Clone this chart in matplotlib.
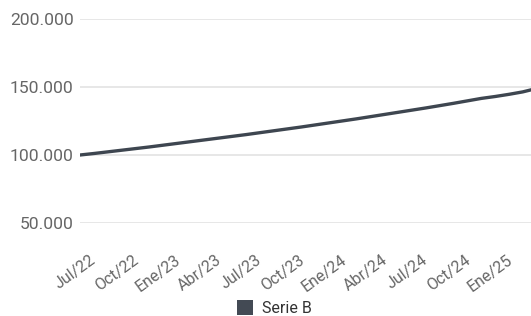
import matplotlib
matplotlib.use("Agg")
import matplotlib.pyplot as plt
from matplotlib.ticker import FuncFormatter, FixedLocator
from matplotlib.patches import Patch
import matplotlib.transforms as mtransforms

# Data (monthly, starting Jul/22)
months = list(range(34))
serie_b = [100000, 101100, 102300, 103500, 104700, 105900, 107200, 108500,
           109800, 111100, 112400, 113700, 115000, 116400, 117800, 119200,
           120600, 122100, 123600, 125100, 126600, 128200, 129800, 131400,
           133000, 134600, 136300, 138000, 139800, 141600, 143000, 144600,
           146400, 148900]
tick_labels = ["Jul/22", "Oct/22", "Ene/23", "Abr/23", "Jul/23", "Oct/23",
               "Ene/24", "Abr/24", "Jul/24", "Oct/24", "Ene/25"]
y_ticks = [50000, 100000, 150000, 200000]

plt.rcParams['font.family'] = ['Roboto', 'DejaVu Sans']

fig = plt.figure(figsize=(5.31, 3.16), dpi=100)
ax = fig.add_axes([80/531, 1-223/316, 1-80/531, (223-19)/316])

line_color = '#3e4650'
ax.plot(months, serie_b, color=line_color, lw=2.4, solid_capstyle='round', clip_on=True)

ax.set_xlim(0, 32.6)
ax.set_ylim(50000, 200000)
ax.yaxis.set_major_locator(FixedLocator(y_ticks))
ax.yaxis.set_major_formatter(FuncFormatter(lambda v, p: f"{int(v):,}".replace(",", ".")))
ax.set_xticks([i*3 for i in range(len(tick_labels))])
ax.set_xticklabels(tick_labels, rotation=36, ha='center', fontsize=11.5, color='#666666')
ax.tick_params(axis='x', length=0, pad=21)
ax.tick_params(axis='y', length=0, pad=4.5, labelsize=12.6, labelcolor='#666666')

ax.grid(axis='y', color='#e3e3e3', lw=1.2)
ax.set_axisbelow(True)
for s in ax.spines.values():
    s.set_visible(False)

# shift x labels slightly left
offset = mtransforms.ScaledTranslation(-5/100, 0, fig.dpi_scale_trans)
for lab in ax.get_xticklabels():
    lab.set_transform(lab.get_transform() + offset)

handles = [Patch(facecolor='#434a54', edgecolor='none', label='Serie B')]
fig.legend(handles=handles, loc='lower center', bbox_to_anchor=(274.5/531, -0.045),
           frameon=False, fontsize=11.5, handlelength=1.0, handleheight=1.1,
           handletextpad=0.6, labelcolor='#333333')

fig.savefig('out.png', dpi=100)
